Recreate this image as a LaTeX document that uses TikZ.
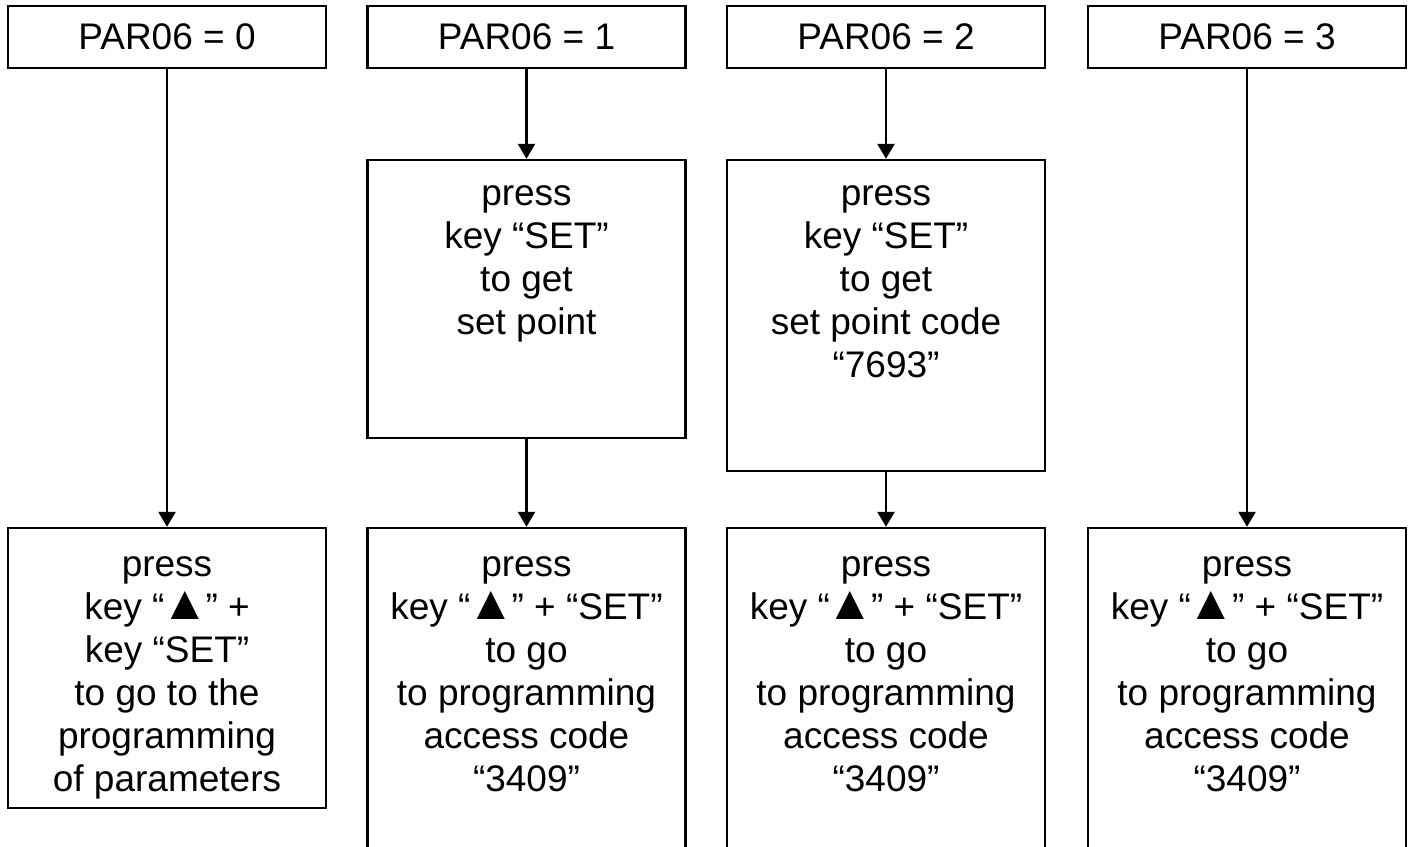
\documentclass[tikz,border=0pt]{standalone}
\usepackage{fontspec}
\setmainfont{Liberation Sans}
\usetikzlibrary{arrows.meta}
\newcommand{\uptri}{\kern-1.6pt{\fontsize{24}{21.5}\selectfont ▲}\kern-1.6pt}
\begin{document}
\begin{tikzpicture}[x=0.5pt,y=-0.5pt,
  box/.style={draw, line width=1.2pt, minimum width=159pt, inner sep=0pt},
  topbox/.style={box, minimum height=31pt, font=\fontsize{18.5}{21.5}\selectfont},
  txt/.style={align=center, font=\fontsize{18.5}{21.5}\selectfont, inner sep=0pt, anchor=north},
  arr/.style={draw, line width=1.2pt, -{Triangle[length=7.5pt,width=8.5pt]}}]
\useasboundingbox (0,0) rectangle (1412,846);
\clip (0,0) rectangle (1412,846);
% top boxes
\node[topbox] (t1) at (167,37) {PAR06 = 0};
\node[topbox] (t2) at (526.5,37) {PAR06 = 1};
\node[topbox] (t3) at (886,37) {PAR06 = 2};
\node[topbox] (t4) at (1247,37) {PAR06 = 3};
% middle boxes
\node[box, minimum height=139pt] (m2) at (526.5,299) {};
\node[box, minimum height=155.5pt] (m3) at (886,315.5) {};
\node[txt] (m2t) at (526.5,175) {\strut press\\key “SET”\\to get\\set point};
\node[txt] (m3t) at (886,175) {\strut press\\key “SET”\\to get\\set point code\\“7693”};
% bottom boxes
\node[box, minimum height=140pt] (b1) at (167,668) {};
\node[box, minimum height=186pt] (b2) at (526.5,714) {};
\node[box, minimum height=186pt] (b3) at (886,714) {};
\node[box, minimum height=186pt] (b4) at (1247,714) {};
\node[txt] (b1t) at (167,546) {\strut press\\key “\uptri” +\\key “SET”\\to go to the\\programming\\of parameters};
\node[txt] (b2t) at (526.5,546) {\strut press\\key “\uptri” + “SET”\\to go\\to programming\\access code\\“3409”};
\node[txt] (b3t) at (886,546) {\strut press\\key “\uptri” + “SET”\\to go\\to programming\\access code\\“3409”};
\node[txt] (b4t) at (1247,546) {\strut press\\key “\uptri” + “SET”\\to go\\to programming\\access code\\“3409”};
% connectors
\draw[arr] (t1) -- (b1);
\draw[arr] (t2) -- (m2);
\draw[arr] (m2) -- (b2);
\draw[arr] (t3) -- (m3);
\draw[arr] (m3) -- (b3);
\draw[arr] (t4) -- (b4);
\end{tikzpicture}
\end{document}
